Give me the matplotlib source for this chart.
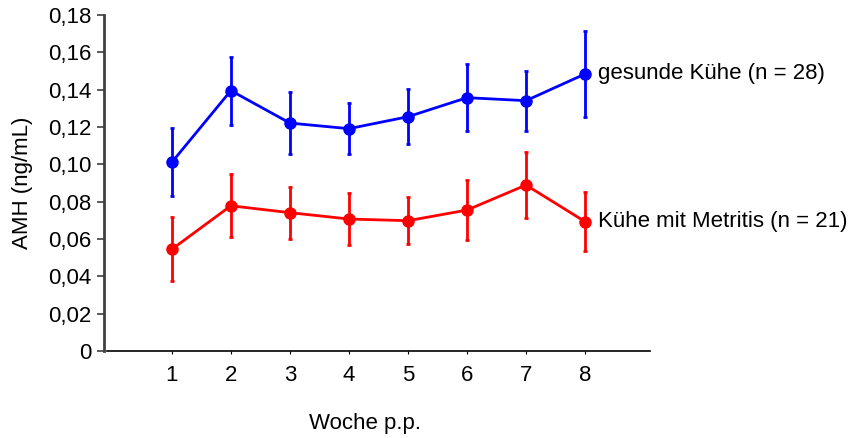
import matplotlib

matplotlib.use("Agg")
import matplotlib.pyplot as plt

plt.rcParams["font.family"] = ["Liberation Sans", "DejaVu Sans"]

weeks = [1, 2, 3, 4, 5, 6, 7, 8]

healthy_mean = [0.1011, 0.1395, 0.1221, 0.1191, 0.1255, 0.1357, 0.1341, 0.1484]
healthy_upper = [0.1193, 0.1577, 0.1386, 0.1327, 0.1402, 0.1536, 0.1502, 0.1716]
healthy_label = "gesunde Kühe (n = 28)"

metritis_mean = [0.0545, 0.0778, 0.0741, 0.0707, 0.0698, 0.0755, 0.0889, 0.0693]
metritis_upper = [0.0716, 0.0946, 0.0880, 0.0845, 0.0823, 0.0914, 0.1068, 0.0850]
metritis_label = "Kühe mit Metritis (n = 21)"

y_ticks = [0, 0.02, 0.04, 0.06, 0.08, 0.10, 0.12, 0.14, 0.16, 0.18]
y_ticklabels = ["0", "0,02", "0,04", "0,06", "0,08", "0,10", "0,12", "0,14", "0,16", "0,18"]

fig = plt.figure(figsize=(8.55, 4.38), dpi=100)
ax = fig.add_axes([0.1216, 0.1986, 0.6386, 0.7672])

for mean, upper, color, label in [
    (healthy_mean, healthy_upper, "#0000ff", healthy_label),
    (metritis_mean, metritis_upper, "#ff0000", metritis_label),
]:
    err = [u - m for u, m in zip(upper, mean)]
    ax.errorbar(weeks, mean, yerr=err, color=color, marker="o", markersize=8,
                linewidth=2, elinewidth=2, capsize=1.5, capthick=2)
    ax.annotate(label, (weeks[-1], mean[-1]), xytext=(9, 0), textcoords="offset points",
                va="center", ha="left", fontsize=16, annotation_clip=False)

ax.set_xlim(-0.15, 9.1)
ax.set_ylim(0, 0.18)
ax.set_xticks(weeks)
ax.set_yticks(y_ticks)
ax.set_yticklabels(y_ticklabels)
ax.tick_params(axis="both", labelsize=16)
ax.tick_params(axis="y", length=5, width=1.2, color="#404040", pad=4)
ax.tick_params(axis="x", length=2, width=0.8, pad=8)

for side in ("top", "right"):
    ax.spines[side].set_visible(False)
ax.spines["left"].set_linewidth(2)
ax.spines["left"].set_color("#404040")
ax.spines["bottom"].set_linewidth(1.2)
ax.spines["bottom"].set_bounds(-0.1, 9.1)

ax.set_ylabel("AMH (ng/mL)", fontsize=16)
ax.yaxis.set_label_coords(-0.13, 0.5)
ax.set_xlabel("Woche p.p.", fontsize=16)
ax.xaxis.set_label_coords(0.478, -0.185)

fig.savefig("out.png", dpi=100)
plt.close(fig)
